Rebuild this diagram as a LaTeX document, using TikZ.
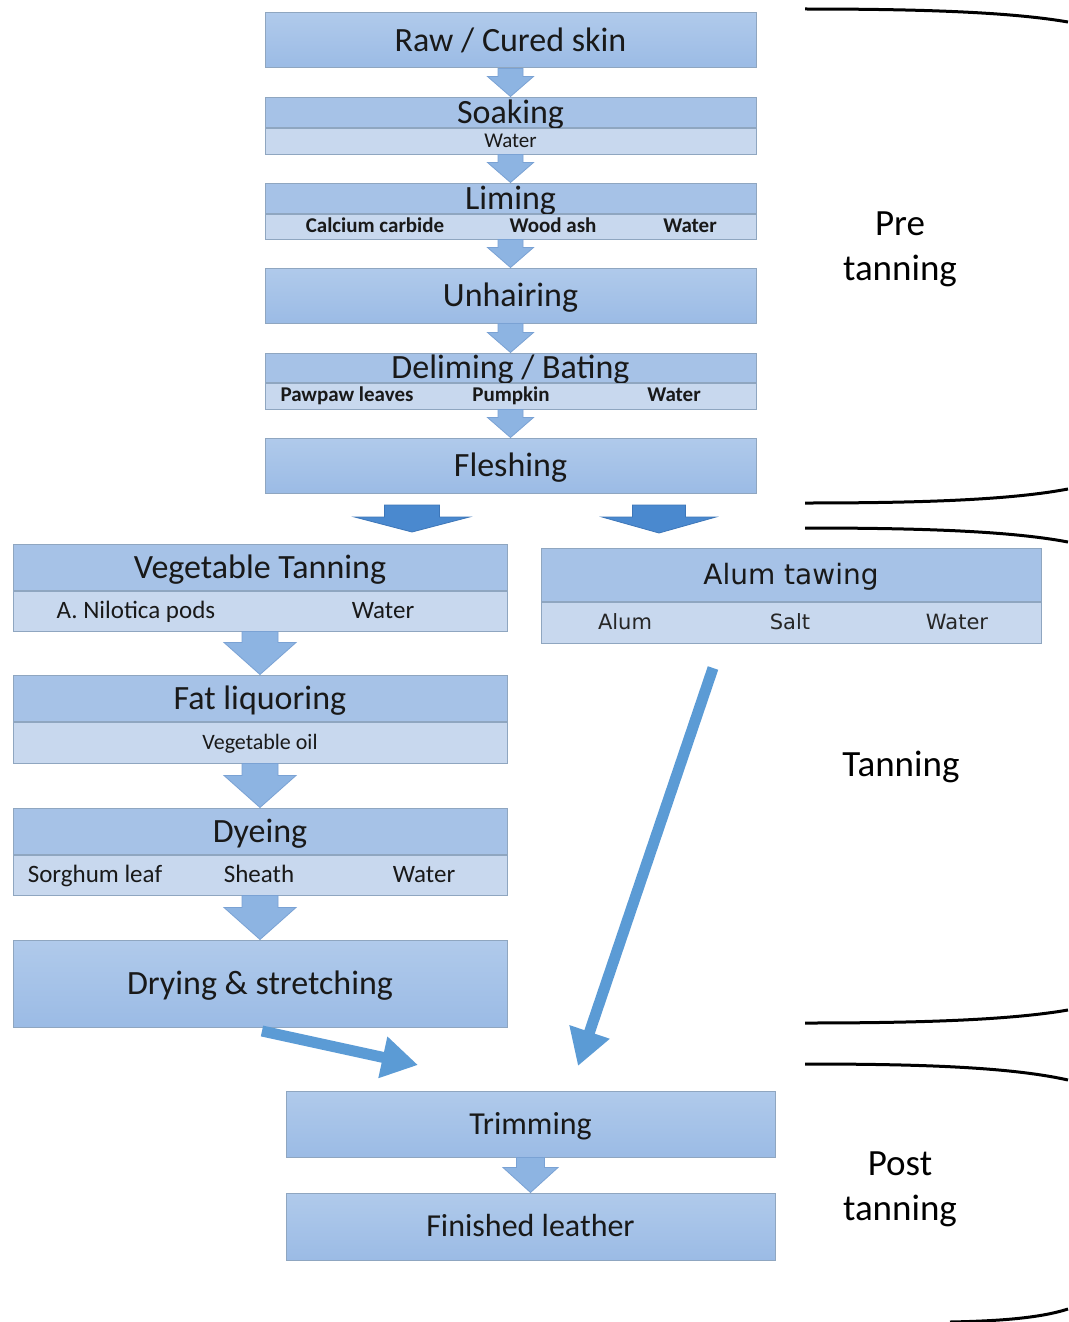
\documentclass[tikz,border=0pt]{standalone}
\usepackage{fontspec}
\setmainfont{Carlito}
\newfontfamily\verd{DejaVu Sans}
\usetikzlibrary{calc}
\usetikzlibrary{arrows.meta}
\definecolor{bandtop}{HTML}{A6C2E7}
\definecolor{bandsub}{HTML}{C8D8EE}
\definecolor{boxhi}{HTML}{B0CAEB}
\definecolor{boxlo}{HTML}{9BBBE5}
\definecolor{boxline}{HTML}{8FA6C0}
\definecolor{arrowlight}{HTML}{8DB4E2}
\definecolor{arrowline}{HTML}{7AA2D4}
\definecolor{arrowdark}{HTML}{4A89CF}
\definecolor{arrowedge}{HTML}{3D76B8}
\definecolor{arrowmid}{HTML}{5B9BD5}

% block arrow: [style]{from}{to}{shaft half width}{head half width}{head length}
\newcommand{\blockarrow}[6][]{%
  \filldraw[#1] let \p1=#2, \p2=#3 in
    (\x1-#4pt,\y1) -- (\x1-#4pt,\y2+#6pt) -- (\x1-#5pt,\y2+#6pt) -- (\x1,\y2)
    -- (\x1+#5pt,\y2+#6pt) -- (\x1+#4pt,\y2+#6pt) -- (\x1+#4pt,\y1) -- cycle;}

\begin{document}
\begin{tikzpicture}[x=1pt,y=-1pt,
    title/.style={draw=boxline, line width=1pt, fill=bandtop, inner sep=0pt,
      text height=22pt, text depth=0pt, text=black!90, font=\fontsize{34}{36}\selectfont},
    single/.style={title, top color=boxhi, bottom color=boxlo},
    sub/.style={draw=boxline, line width=1pt, fill=bandsub, inner sep=0pt,
      text height=13.5pt, text depth=0pt, text=black!90, font=\fontsize{21}{24}\selectfont},
    item/.style={inner sep=0pt, text height=13.5pt, text depth=0pt, text=black!90,
      font=\fontsize{21}{24}\selectfont\bfseries},
    leftitem/.style={item, text height=16pt, font=\fontsize{25}{28}\selectfont},
    alumitem/.style={item, text height=15pt, text=black!85, font=\verd\fontsize{21}{24}\selectfont},
    smallarrow/.style={fill=arrowlight, draw=arrowline, line width=0.8pt},
    bigarrow/.style={fill=arrowdark, draw=arrowedge, line width=0.8pt},
    thickarrow/.style={draw=arrowmid, line width=11pt, -{Triangle[length=36pt,width=40pt]}},
    bracket/.style={line width=3pt},
    phase/.style={align=center, font=\fontsize{37}{45}\selectfont}]
\useasboundingbox[fill=white] (0,0) rectangle (1068,1322);

% pre tanning column
\node[single, minimum width=491pt, minimum height=55pt] (raw) at (510.5,40.5) {Raw / Cured skin};
\node[title, minimum width=491pt, minimum height=30pt] (soak) at (510.5,112) {Soaking};
\node[sub, minimum width=491pt, minimum height=26pt, anchor=north] (soak-sub) at (soak.south) {Water};
\node[title, minimum width=491pt, minimum height=30pt] (lime) at (510.5,198) {Liming};
\node[sub, minimum width=491pt, minimum height=25pt, anchor=north] (lime-sub) at (lime.south) {};
\node[item] (lime-a) at (375,225.5) {Calcium carbide};
\node[item] (lime-b) at (553,225.5) {Wood ash};
\node[item] (lime-c) at (690,225.5) {Water};
\node[single, minimum width=491pt, minimum height=55pt] (unhair) at (510.5,295.5) {Unhairing};
\node[title, minimum width=491pt, minimum height=29pt] (delime) at (510.5,367.5) {Deliming / Bating};
\node[sub, minimum width=491pt, minimum height=26pt, anchor=north] (delime-sub) at (delime.south) {};
\node[item] (delime-a) at (347,395) {Pawpaw leaves};
\node[item] (delime-b) at (511,395) {Pumpkin};
\node[item] (delime-c) at (674,395) {Water};
\node[single, minimum width=491pt, minimum height=55pt] (flesh) at (510.5,465.5) {Fleshing};

\blockarrow[smallarrow]{(raw.south)}{(soak.north)}{12.5}{23}{20}
\blockarrow[smallarrow]{(soak-sub.south)}{(lime.north)}{12.5}{23}{20}
\blockarrow[smallarrow]{(lime-sub.south)}{(unhair.north)}{12.5}{23}{20}
\blockarrow[smallarrow]{(unhair.south)}{(delime.north)}{12.5}{23}{20}
\blockarrow[smallarrow]{(delime-sub.south)}{(flesh.north)}{12.5}{23}{20}

% split below fleshing
\coordinate (veg-in) at (412,505);
\coordinate (veg-tip) at (412,532);
\coordinate (alum-in) at (659,505);
\coordinate (alum-tip) at (659,533);
\blockarrow[bigarrow]{(veg-in)}{(veg-tip)}{27.5}{57.5}{15}
\blockarrow[bigarrow]{(alum-in)}{(alum-tip)}{26.5}{57}{16}

% vegetable tanning column
\node[title, minimum width=494pt, minimum height=46pt] (veg) at (260,567) {Vegetable Tanning};
\node[sub, minimum width=494pt, minimum height=40pt, anchor=north] (veg-sub) at (veg.south) {};
\node[leftitem] (veg-a) at (136,610) {A. Nilotica pods};
\node[leftitem] (veg-b) at (383,610) {Water};
\node[title, minimum width=494pt, minimum height=46pt] (fat) at (260,698) {Fat liquoring};
\node[sub, minimum width=494pt, minimum height=41pt, anchor=north, text height=14pt, font=\fontsize{22}{24}\selectfont] (fat-sub) at (fat.south) {Vegetable oil};
\node[title, minimum width=494pt, minimum height=46pt] (dye) at (260,831) {Dyeing};
\node[sub, minimum width=494pt, minimum height=40pt, anchor=north] (dye-sub) at (dye.south) {};
\node[leftitem] (dye-a) at (95,874) {Sorghum leaf};
\node[leftitem] (dye-b) at (259,874) {Sheath};
\node[leftitem] (dye-c) at (424,874) {Water};
\node[single, minimum width=494pt, minimum height=87pt] (dry) at (260,983.5) {Drying \& stretching};

\blockarrow[smallarrow]{(veg-sub.south)}{(fat.north)}{18}{36}{32}
\blockarrow[smallarrow]{(fat-sub.south)}{(dye.north)}{18}{36}{32}
\blockarrow[smallarrow]{(dye-sub.south)}{(dry.north)}{18}{36}{32}

% alum tawing
\node[title, minimum width=500pt, minimum height=53pt, text height=20pt, font=\verd\fontsize{28}{30}\selectfont] (alum) at (791,574.5) {Alum tawing};
\node[sub, minimum width=500pt, minimum height=41pt, anchor=north] (alum-sub) at (alum.south) {};
\node[alumitem] (alum-a) at (625,622) {Alum};
\node[alumitem] (alum-b) at (790,622) {Salt};
\node[alumitem] (alum-c) at (957,622) {Water};

% post tanning
\node[single, minimum width=489pt, minimum height=66pt, text height=20.5pt, font=\fontsize{32}{34}\selectfont] (trim) at (530.5,1124) {Trimming};
\node[single, minimum width=489pt, minimum height=67pt, text height=20.5pt, font=\fontsize{32}{34}\selectfont] (finish) at (530.5,1226.5) {Finished leather};
\blockarrow[smallarrow]{(trim.south)}{(finish.north)}{14}{27.5}{25}

\coordinate (dry-out) at (262,1031);
\coordinate (trim-in) at (418,1065);
\coordinate (alum-out) at (713,668);
\coordinate (trim-in2) at (578,1066);
\draw[thickarrow] (dry-out) -- (trim-in);
\draw[thickarrow] (alum-out) -- (trim-in2);

% phases
\draw[bracket] (805,9) .. controls (920,9) and (1010,12) .. (1068,22);
\draw[bracket] (805,503) .. controls (920,503) and (1010,500) .. (1068,489);
\node[phase] (pre) at (900,249) {Pre\\tanning};
\draw[bracket] (805,528) .. controls (920,528) and (1010,531) .. (1068,542);
\draw[bracket] (805,1023) .. controls (920,1023) and (1010,1020) .. (1068,1010);
\node[phase] (tan) at (901,767) {Tanning};
\draw[bracket] (805,1064) .. controls (920,1064) and (1010,1067) .. (1068,1080);
\draw[bracket] (950,1322) .. controls (1000,1321) and (1040,1318) .. (1068,1309);
\node[phase] (post) at (900,1189) {Post\\tanning};
\end{tikzpicture}
\end{document}
